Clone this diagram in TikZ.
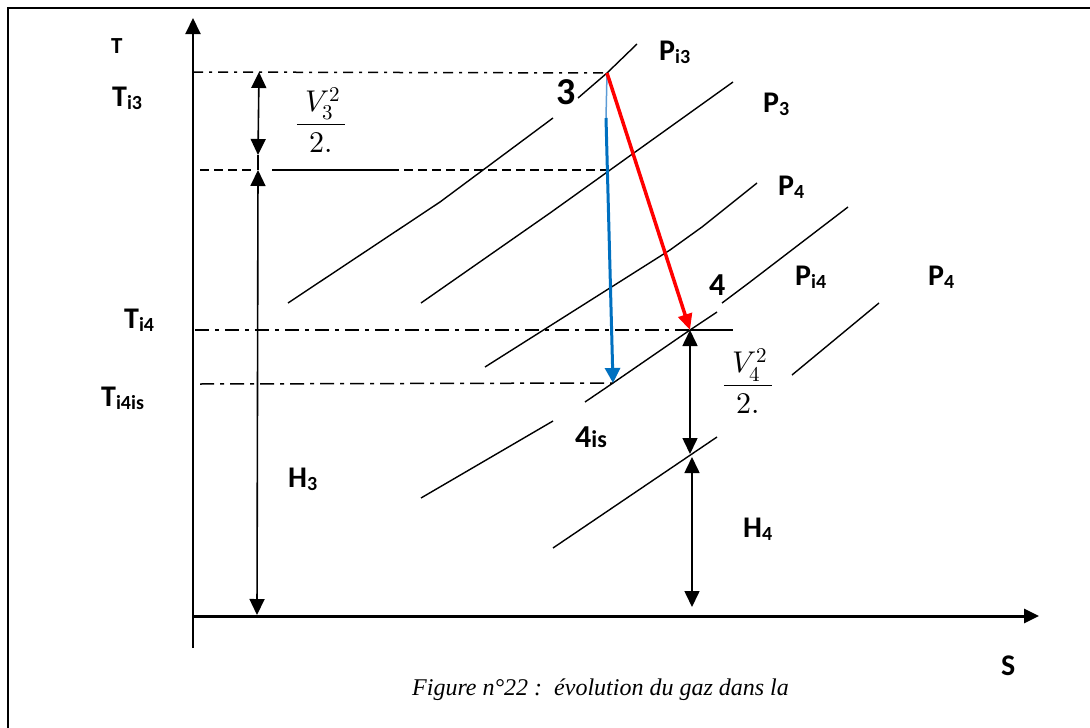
\documentclass[tikz,border=0pt]{standalone}
\usepackage{fontspec}
\usepackage{unicode-math}
\setmainfont{Liberation Serif}
\setmathfont{Latin Modern Math}
\newfontfamily\labfont{Carlito}
\usetikzlibrary{arrows.meta}
\definecolor{myblue}{RGB}{0,112,192}
\definecolor{lightblue}{RGB}{91,155,213}
\definecolor{myred}{RGB}{255,0,0}
\newcommand\Sb[1]{\raisebox{-3.5pt}{\fontsize{20}{20}\selectfont #1}}
\begin{document}
\begin{tikzpicture}[x=1pt,y=-1pt,
  lab/.style={font=\labfont\bfseries\fontsize{30}{30}\selectfont, inner sep=0pt, anchor=base west},
  bignum/.style={font=\labfont\bfseries\fontsize{38}{38}\selectfont, inner sep=0pt, anchor=base west},
  midnum/.style={font=\labfont\bfseries\fontsize{32}{32}\selectfont, inner sep=0pt, anchor=base west},
  smallT/.style={font=\labfont\bfseries\fontsize{23}{23}\selectfont, inner sep=0pt, anchor=base west},
  fracl/.style={font=\fontsize{30}{34}\selectfont, inner sep=0pt},
  iso/.style={line width=1.4pt},
  frameline/.style={line width=2.4pt},
  dashdotA/.style={line width=1.5pt, dash pattern=on 10pt off 6pt on 3pt off 6pt},
  dashdotB/.style={line width=1.5pt, dash pattern=on 14pt off 6pt on 4pt off 6pt},
  dashedA/.style={line width=1.5pt, dash pattern=on 9pt off 5pt},
  dimarrow/.style={line width=1.6pt, {Triangle[length=16pt,width=15pt]}-{Triangle[length=16pt,width=15pt]}},
]
\useasboundingbox (0,0) rectangle (1090,728);
\fill[white] (0,0) rectangle (1090,728);

% frame (top and left)
\coordinate (fTL) at (8,8);
\coordinate (fTR) at (1090,8);
\coordinate (fBL) at (8,728);
\draw[frameline] (fTR) -- (fTL) -- (fBL);

% axes
\coordinate (o) at (193,616);
\coordinate (ybot) at (193,648);
\coordinate (ytop) at (193,18);
\coordinate (xend) at (1039,616);
\draw[line width=2pt, -{Triangle[length=16pt,width=15pt]}] (ybot) -- (ytop);
\draw[line width=3pt, -{Triangle[length=15pt,width=14pt]}] (o) -- (xend);

% key points
\coordinate (p3) at (607,73);
\coordinate (p4) at (690,330);
\coordinate (p4is) at (613,383);

% isobars
\draw[iso] (288,303) -- (440,202) -- (553,118);
\draw[iso] (578,98) -- (p3) -- (637,44);
\draw[iso] (421,303) -- (550,213) -- (733,82);
\draw[iso] (485,367) -- (670,250) -- (702,227) -- (757,183);
\draw[iso] (585,402) -- (p4is) -- (p4) -- (717,312);
\draw[iso] (722,303) -- (750,282) -- (848,207);
\draw[iso] (421,498) -- (553,421);
\draw[iso] (553,548) -- (717,437);
\draw[iso] (792,375) -- (879,303);

% horizontal reference lines
\coordinate (ti3a) at (193,72);
\draw[dashdotA] (ti3a) -- (p3);
\coordinate (hA) at (200,170);
\coordinate (hB) at (255,170);
\coordinate (hC) at (272,170);
\coordinate (hD) at (390,170);
\coordinate (hE) at (607,170);
\draw[dashedA] (hA) -- (hB);
\draw[line width=1.5pt] (hC) -- (hD);
\draw[dashedA] (hD) -- (hE);
\coordinate (ti4a) at (195,330);
\coordinate (ti4b) at (733,330);
\draw[dashdotB] (ti4a) -- (p4);
\draw[line width=1.5pt] (p4) -- (ti4b);
\coordinate (ti4isa) at (200,384);
\draw[dashdotB] (ti4isa) -- (p4is);

% dimension arrows left
\coordinate (v3top) at (259,72);
\coordinate (v3bot) at (258,155);
\coordinate (h3top) at (258,170);
\coordinate (h3bot) at (257,615);
\draw[dimarrow] (v3top) -- (v3bot);
\draw[line width=1.6pt] (v3bot) -- (h3top);
\draw[dimarrow] (h3top) -- (h3bot);

% dimension arrows right
\coordinate (v4bot) at (690,454);
\coordinate (h4top) at (692,457);
\coordinate (h4bot) at (692,607);
\draw[dimarrow] (p4) -- (v4bot);
\draw[dimarrow] (h4top) -- (h4bot);

% process arrows
\coordinate (bl1) at (606,118);
\draw[lightblue, line width=1.5pt] (p3) -- (bl1);
\draw[myblue, line width=3pt, -{Triangle[length=15pt,width=15pt]}] (bl1) -- (p4is);
\draw[myred, line width=3.5pt, -{Triangle[length=16pt,width=14pt]}] (p3) -- (p4);

% labels
\node[smallT] (lT) at (111,53) {T};
\node[lab] (lTi3) at (112,106) {T\Sb{i3}};
\node[lab] (lTi4) at (124,328) {T\Sb{i4}};
\node[lab] (lTi4is) at (101,406) {T\Sb{i4is}};
\node[lab] (lH3) at (288,487) {H\Sb{3}};
\node[lab] (lH4) at (743,537) {H\Sb{4}};
\node[lab] (lPi3) at (659,60) {P\Sb{i3}};
\node[lab] (lP3) at (763,112) {P\Sb{3}};
\node[lab] (lP4a) at (778,195) {P\Sb{4}};
\node[lab] (lPi4) at (795,285) {P\Sb{i4}};
\node[lab] (lP4b) at (928,285) {P\Sb{4}};
\node[lab] (lS) at (1001,675) {S};
\node[bignum] (l3) at (556,104) {3};
\node[midnum] (l4) at (709,295) {4};
\node[midnum] (l4is) at (575,447) {4{\fontsize{24}{24}\selectfont is}};

\node[fracl] (fV3) at (321,120) {$\displaystyle\frac{\;V_3^2\,}{2.}$};
\node[fracl] (fV4) at (748,381) {$\displaystyle\frac{\;V_4^2\,}{2.}$};

% caption
\node[font=\itshape\fontsize{24}{24}\selectfont, inner sep=0pt, anchor=base west] (cap) at (412,695) {Figure n°22 :\ \ évolution du gaz dans la};
\end{tikzpicture}
\end{document}
